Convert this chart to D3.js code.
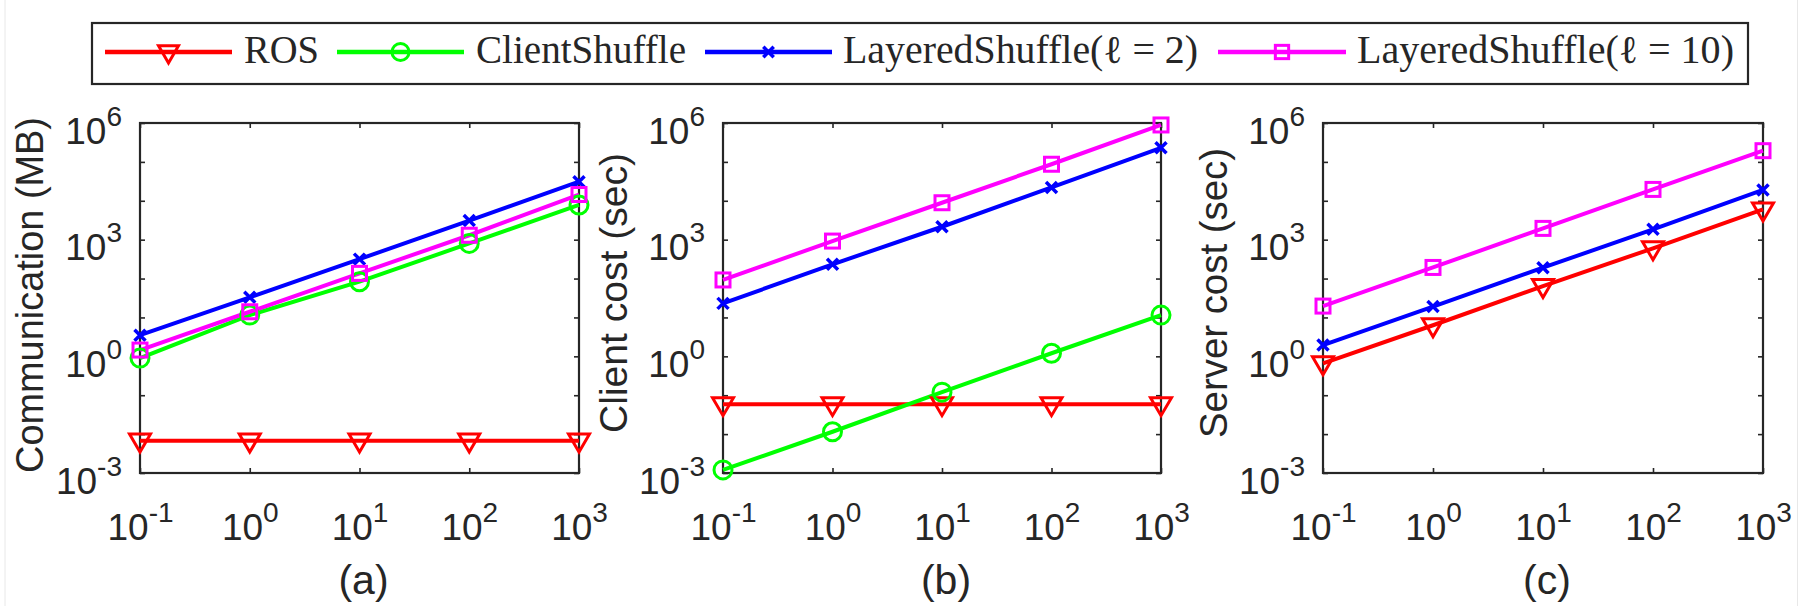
<!DOCTYPE html>
<html>
<head>
<meta charset="utf-8">
<script src="https://cdn.jsdelivr.net/npm/d3@7"></script>
<style>
  body { margin: 0; background: #fff; }
  text { fill: #262626; }
</style>
</head>
<body>
<svg id="chart" width="1808" height="606"></svg>
<script>
// x values shared by all three panels
const xValues = [0.1, 1, 10, 100, 1000];
const xTicks = [0.1, 1, 10, 100, 1000];
const yDecades = [1e-3, 1e-2, 1e-1, 1e0, 1e1, 1e2, 1e3, 1e4, 1e5, 1e6];
const yLabelled = [1e-3, 1e0, 1e3, 1e6];

const seriesNames = ["ROS", "ClientShuffle", "LayeredShuffle(\u2113 = 2)", "LayeredShuffle(\u2113 = 10)"];

// (a) communication, MB
const commROS      = [0.0068, 0.0068, 0.0068, 0.0068, 0.0068];
const commClient   = [0.9, 11.5, 83, 800, 7800];
const commLayered2 = [3.5, 33, 316, 3100, 31000];
const commLayered10 = [1.45, 14, 136, 1300, 14500];

// (b) client cost, sec
const clientROS      = [0.059, 0.059, 0.059, 0.059, 0.059];
const clientClient   = [0.0012, 0.0115, 0.12, 1.2, 11.5];
const clientLayered2 = [23, 232, 2150, 22000, 230000];
const clientLayered10 = [92, 920, 8900, 87000, 890000];

// (c) server cost, sec (no ClientShuffle curve)
const serverROS      = [0.66, 6.3, 64, 600, 6000];
const serverLayered2 = [1.95, 19, 190, 1850, 19000];
const serverLayered10 = [19.6, 193, 1950, 19600, 194000];

const panelLetters = ["(a)", "(b)", "(c)"];
const yTitles = ["Communication (MB)", "Client cost (sec)", "Server cost (sec)"];

// styling
const colors = ["#ff0000", "#00ff00", "#0000ff", "#ff00ff"];
const markers = ["tri", "circle", "cross", "square"];
const ink = "#262626";

const svg = d3.select("#chart");

// faint scan border
svg.append("line").attr("x1", 5).attr("x2", 5).attr("y1", 0).attr("y2", 606)
  .attr("stroke", "#e8e8e8").attr("stroke-width", 1);
svg.append("line").attr("x1", 1797.5).attr("x2", 1797.5).attr("y1", 0).attr("y2", 606)
  .attr("stroke", "#e8e8e8").attr("stroke-width", 1);

function drawMarker(g, type, color, s = 1) {
  if (type === "tri") {
    g.append("path").attr("d", `M${-10.5*s},${-6.5*s}L${10.5*s},${-6.5*s}L0,${11.5*s}Z`)
      .attr("fill", "none").attr("stroke", color).attr("stroke-width", 3);
  } else if (type === "circle") {
    g.append("circle").attr("r", 9 * s)
      .attr("fill", "none").attr("stroke", color).attr("stroke-width", 3);
  } else if (type === "square") {
    g.append("rect").attr("x", -7 * s).attr("y", -7 * s).attr("width", 14 * s).attr("height", 14 * s)
      .attr("fill", "none").attr("stroke", color).attr("stroke-width", 3);
  } else {
    const a = 5.5 * s;
    g.append("path").attr("d", `M${-a},${-a}L${a},${a}M${-a},${a}L${a},${-a}`)
      .attr("stroke", color).attr("stroke-width", 3.5);
  }
}

function powLabel(sel, d) {
  const t = d3.select(sel);
  t.text(null);
  t.append("tspan").text("10");
  t.append("tspan").attr("dy", -18).attr("font-size", 28).text(Math.round(Math.log10(d)));
}

const panels = [
  {left: 140, right: 579, series: [commROS, commClient, commLayered2, commLayered10], idx: [0, 1, 2, 3],
   titleX: 43, titleY: 295, titleLen: 356},
  {left: 723, right: 1161, series: [clientROS, clientClient, clientLayered2, clientLayered10], idx: [0, 1, 2, 3],
   titleX: 627, titleY: 293, titleLen: 280},
  {left: 1323, right: 1763, series: [serverROS, serverLayered2, serverLayered10], idx: [0, 2, 3],
   titleX: 1227, titleY: 293, titleLen: 290}
];
const plotTop = 123, plotBottom = 473;

panels.forEach((p, pi) => {
  const x = d3.scaleLog().domain([0.1, 1000]).range([p.left, p.right]);
  const y = d3.scaleLog().domain([1e-3, 1e6]).range([plotBottom, plotTop]);
  const g = svg.append("g");

  // ticks (inward, box on)
  const yl = g.append("g").attr("transform", `translate(${p.left},0)`)
    .call(d3.axisLeft(y).tickValues(yDecades).tickSize(-5).tickPadding(18).tickFormat(""));
  g.append("g").attr("transform", `translate(${p.right},0)`)
    .call(d3.axisRight(y).tickValues(yDecades).tickSize(-5).tickFormat(""));
  const xl = g.append("g").attr("transform", `translate(0,${plotBottom})`)
    .call(d3.axisBottom(x).tickValues(xTicks).tickSize(-5).tickFormat(""));
  g.append("g").attr("transform", `translate(0,${plotTop})`)
    .call(d3.axisTop(x).tickValues(xTicks).tickSize(-5).tickFormat(""));
  g.selectAll(".domain").remove();
  g.selectAll(".tick line").attr("stroke", ink).attr("stroke-width", 1.6);

  yl.selectAll(".tick text")
    .filter(d => yLabelled.includes(d))
    .attr("dy", null).attr("y", 20)
    .attr("font-family", "Liberation Sans, Arial, sans-serif").attr("font-size", 37)
    .attr("text-anchor", "end").attr("fill", ink)
    .each(function(d) { powLabel(this, d); });

  xl.selectAll(".tick text")
    .attr("dy", null).attr("y", 67)
    .attr("font-family", "Liberation Sans, Arial, sans-serif").attr("font-size", 37)
    .attr("text-anchor", "middle").attr("fill", ink)
    .each(function(d) { powLabel(this, d); });

  // frame
  g.append("rect").attr("x", p.left).attr("y", plotTop)
    .attr("width", p.right - p.left).attr("height", plotBottom - plotTop)
    .attr("fill", "none").attr("stroke", ink).attr("stroke-width", 2.2);

  // curves
  const line = d3.line().x((d, i) => x(xValues[i])).y(d => y(d));
  p.series.forEach((vals, si) => {
    const k = p.idx[si];
    g.append("path").datum(vals).attr("d", line)
      .attr("fill", "none").attr("stroke", colors[k]).attr("stroke-width", 4);
  });
  p.series.forEach((vals, si) => {
    const k = p.idx[si];
    vals.forEach((v, i) => {
      const m = g.append("g").attr("transform", `translate(${x(xValues[i])},${y(v)})`);
      drawMarker(m, markers[k], colors[k]);
    });
  });

  // titles
  g.append("text")
    .attr("transform", `translate(${p.titleX},${p.titleY}) rotate(-90)`)
    .attr("text-anchor", "middle")
    .attr("font-family", "Liberation Sans, Arial, sans-serif").attr("font-size", 39)
    .attr("textLength", p.titleLen).attr("lengthAdjust", "spacingAndGlyphs")
    .text(yTitles[pi]);
  g.append("text")
    .attr("x", (p.left + p.right) / 2 + 4).attr("y", 594)
    .attr("text-anchor", "middle")
    .attr("font-family", "Liberation Sans, Arial, sans-serif").attr("font-size", 41)
    .text(panelLetters[pi]);
});

// legend
const legend = svg.append("g");
legend.append("rect").attr("x", 92).attr("y", 23).attr("width", 1656).attr("height", 61)
  .attr("fill", "#fff").attr("stroke", ink).attr("stroke-width", 2.2);
const legendLine = [[105, 232], [337, 464], [705, 832], [1218, 1346]];
const legendText = [[244, 75], [476, 210], [843, 355], [1357, 377]];
seriesNames.forEach((name, k) => {
  const [a, b] = legendLine[k];
  legend.append("line").attr("x1", a).attr("x2", b).attr("y1", 52).attr("y2", 52)
    .attr("stroke", colors[k]).attr("stroke-width", 4.5);
  drawMarker(legend.append("g").attr("transform", `translate(${(a + b) / 2},52)`), markers[k], colors[k], 0.95);
  legend.append("text").attr("x", legendText[k][0]).attr("y", 63)
    .attr("font-family", "Liberation Serif, 'DejaVu Serif', serif").attr("font-size", 39)
    .attr("textLength", legendText[k][1]).attr("lengthAdjust", "spacingAndGlyphs")
    .attr("fill", "#000")
    .text(name);
});
</script>
</body>
</html>
